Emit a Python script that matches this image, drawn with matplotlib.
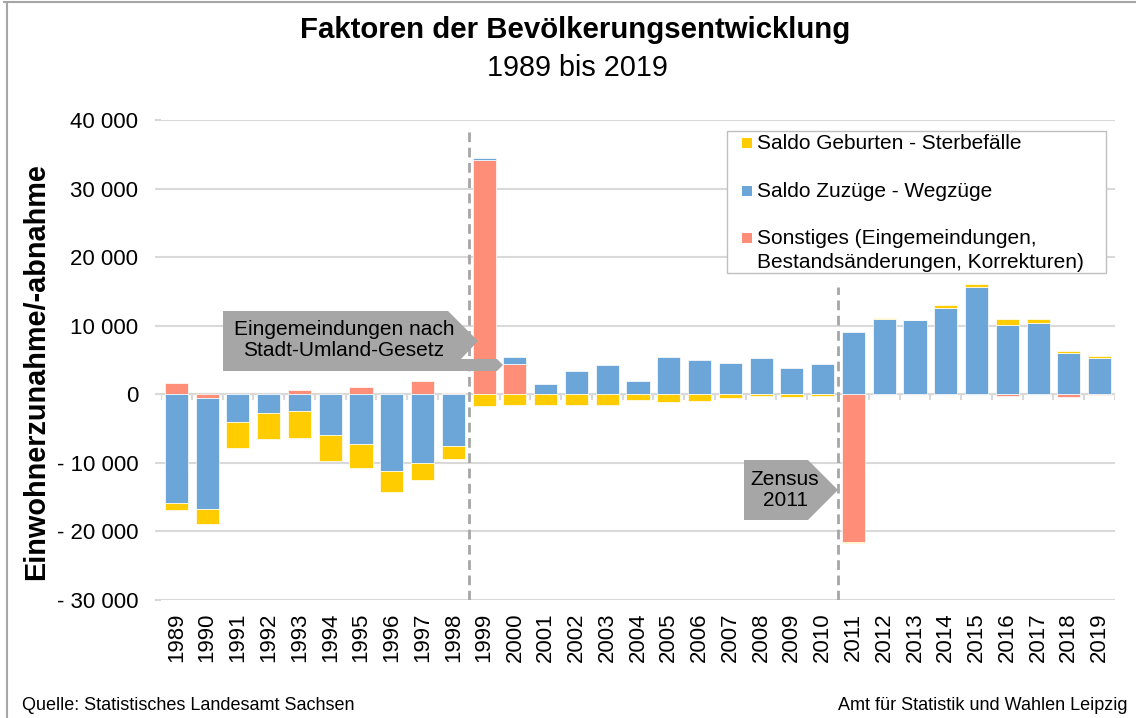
import matplotlib.pyplot as plt
import numpy as np
from matplotlib.patches import Polygon, Rectangle
from matplotlib.lines import Line2D
from matplotlib.ticker import FuncFormatter

plt.rcParams.update({
    "font.family": ["Liberation Sans", "DejaVu Sans"],
    "font.size": 15,
})

# ----------------------------------------------------------------------
# Data
# ----------------------------------------------------------------------
years = list(range(1989, 2020))
geburten = [-1100, -2100, -3750, -3850, -3890, -3740, -3550, -3020, -2580, -1990,
            -1750, -1600, -1510, -1510, -1510, -830, -1170, -970, -580, -250,
            -340, -250, -100, 80, 60, 390, 390, 830, 480, 340, 240]
zuzuege = [-15800, -16300, -4080, -2670, -2480, -5980, -7190, -11220, -9960, -7480,
           300, 1020, 1460, 3350, 4320, 1900, 5390, 5000, 4620, 5250,
           3890, 4420, 9140, 10980, 10830, 12580, 15640, 10100, 10450, 6030, 5300]
sonstiges = [1650, -500, 0, 0, 580, 0, 1020, 0, 1900, 250,
             34110, 4370, 0, 0, 0, 0, 0, 0, 0, 0,
             0, 0, -21530, 0, 0, 0, 0, -250, 0, -440, -100]

labels = ["Saldo Geburten - Sterbefälle",
          "Saldo Zuzüge - Wegzüge",
          "Sonstiges (Eingemeindungen,\nBestandsänderungen, Korrekturen)"]
C_GEB, C_ZU, C_SON = "#FFCC00", "#6CA6D9", "#FF8E78"
GRAY = "#A6A6A6"
GRID = "#D9D9D9"

# dashed markers: (boundary position, top of line)
markers = [(9.5, 38960), (21.5, 15640)]

W, H = 1136, 718
fig = plt.figure(figsize=(W / 100, H / 100), dpi=100)
ax = fig.add_axes([161 / W, 1 - 600 / H, 954 / W, 480 / H])


def fx(px):
    return px / W


def fy(py):
    return 1 - py / H


n = len(years)
x = np.arange(n)
pos = np.zeros(n)
neg = np.zeros(n)
for vals, color in [(sonstiges, C_SON), (zuzuege, C_ZU), (geburten, C_GEB)]:
    v = np.array(vals, dtype=float)
    base = np.where(v >= 0, pos, neg)
    ax.bar(x, v, 0.75, bottom=base, color=color, edgecolor="white",
           linewidth=0.5, zorder=3)
    pos += np.where(v > 0, v, 0)
    neg += np.where(v < 0, v, 0)

ax.set_xlim(-0.5, n - 0.5)
ax.set_ylim(-30000, 40000)
ax.set_yticks(range(-30000, 40001, 10000))
ax.grid(axis="y", color=GRID, lw=1.5, zorder=0)
ax.axhline(0, color=GRID, lw=1.5, zorder=2)
ax.vlines(np.arange(n + 1) - 0.5, 0, -870, color=GRID, lw=1.5, zorder=2)

for xb, top in markers:
    ax.vlines(xb, -30000, top, colors=GRAY, lw=2, linestyles=(0, (3.5, 2)), zorder=4)


def fmt(v, _):
    if v == 0:
        return "0"
    s = f"{abs(int(v)):,}".replace(",", " ")
    return ("- " + s) if v < 0 else s


ax.yaxis.set_major_formatter(FuncFormatter(fmt))
ax.set_xticks(x)
ax.set_xticklabels([str(y) for y in years], rotation=90)
ax.tick_params(axis="y", length=4.3, width=1.5, color=GRID, pad=12, labelsize=16)
ax.tick_params(axis="x", length=0, pad=9, labelsize=16)
for s in ax.spines.values():
    s.set_visible(False)

# titles and labels
fig.text(fx(575), fy(30), "Faktoren der Bevölkerungsentwicklung", fontsize=21.2,
         weight="bold", ha="center", va="center")
fig.text(fx(577), fy(68), "1989 bis 2019", fontsize=20.7, ha="center", va="center")
fig.text(fx(36), fy(372), "Einwohnerzunahme/-abnahme", fontsize=20.8, weight="bold",
         rotation=90, ha="center", va="center")
fig.text(fx(22), fy(706), "Quelle: Statistisches Landesamt Sachsen", fontsize=13,
         ha="left", va="center")
fig.text(fx(1127), fy(706), "Amt für Statistik und Wahlen Leipzig", fontsize=13,
         ha="right", va="center")

# outer frame (top and left edges)
fig.add_artist(Line2D([fx(4), 1], [fy(2), fy(2)], color=GRAY, lw=1.5))
fig.add_artist(Line2D([fx(7), fx(7)], [0, fy(2)], color=GRAY, lw=1.5))

# legend box
fig.add_artist(Rectangle((fx(727), fy(273)), fx(1106) - fx(727), fy(131) - fy(273),
                         transform=fig.transFigure, facecolor="white",
                         edgecolor="#BFBFBF", lw=1, zorder=5))
for (lab, col, base) in zip(labels, [C_GEB, C_ZU, C_SON], [149, 197, 244]):
    fig.add_artist(Rectangle((fx(742), fy(base - 1)), 10 / W, 10 / H,
                             transform=fig.transFigure, facecolor=col,
                             edgecolor="none", zorder=6))
    for k, line in enumerate(lab.split("\n")):
        fig.text(fx(757), fy(base + 24 * k), line, fontsize=15, ha="left",
                 va="baseline", zorder=6)

# callouts
call1 = [(223, 311), (448, 311), (478, 341), (461, 359), (497, 359),
         (503, 365), (497, 371), (223, 371)]
call2 = [(744, 460), (808, 460), (838, 490), (808, 520), (744, 520)]
for pts in (call1, call2):
    fig.add_artist(Polygon([(fx(a), fy(b)) for a, b in pts], closed=True,
                           transform=fig.transFigure, facecolor=GRAY,
                           edgecolor="none", zorder=5))
fig.text(fx(344), fy(340), "Eingemeindungen nach\nStadt-Umland-Gesetz", fontsize=15,
         ha="center", va="center", linespacing=1.1, zorder=6)
fig.text(fx(785), fy(490), "Zensus\n2011", fontsize=15, ha="center", va="center",
         linespacing=1.1, zorder=6)

fig.savefig("out.png", dpi=100)
